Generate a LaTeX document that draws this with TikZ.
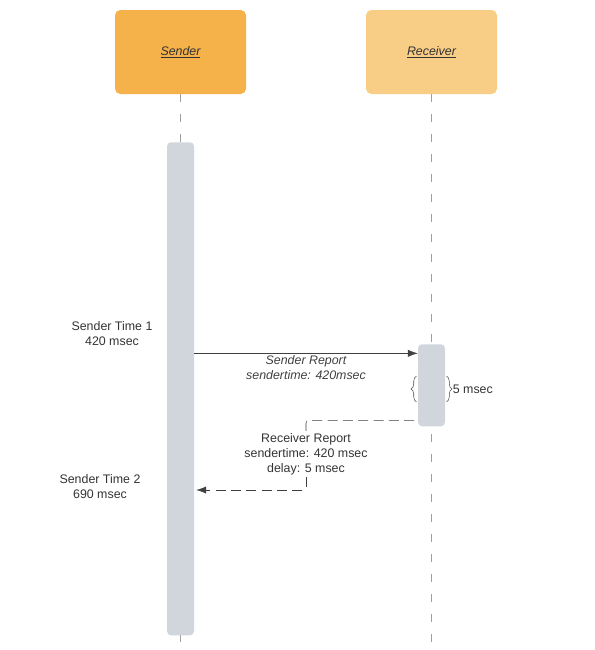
\documentclass[tikz,border=0pt]{standalone}
\usepackage{fontspec}
\setmainfont{Liberation Sans}
\usetikzlibrary{arrows.meta,positioning,decorations.pathreplacing}
\definecolor{sndorange}{HTML}{F5B14A}
\definecolor{rcvorange}{HTML}{F8CD85}
\definecolor{bargray}{HTML}{D1D5DC}
\definecolor{txtgray}{HTML}{333333}

\begin{document}
\begin{tikzpicture}[
  x=0.75pt,y=-0.75pt,
  font=\fontsize{9.3}{11.3}\selectfont,
  text=txtgray,
  actor/.style={rounded corners=4pt,minimum width=98.25pt,minimum height=63pt,inner sep=0pt,font=\fontsize{9.3}{11.3}\selectfont\itshape},
  actbar/.style={fill=bargray,rounded corners=3pt,minimum width=20.25pt,inner sep=0pt,anchor=north},
  lifeline/.style={gray!75,semithick,dash pattern=on 6pt off 9pt},
  msg/.style={-{Latex[length=2.6mm,width=1.9mm]},black!75},
  reply/.style={msg,dash pattern=on 7.5pt off 4pt,rounded corners=2pt},
  note/.style={align=center,inner sep=1.5pt},
  span/.style={decorate,decoration={brace,amplitude=4pt},black!70}
]
\useasboundingbox (0,0) rectangle (594,650);
% participants
\node[actor,fill=sndorange] (snd) at (180.5,52) {\underline{Sender}};
\node[actor,fill=rcvorange] (rcv) at (431.5,52) {\underline{Receiver}};
\coordinate (sndend) at (180.5,650);
\coordinate (rcvend) at (431.5,650);
\draw[lifeline] (snd.south) -- (sndend);
\draw[lifeline] (rcv.south) -- (rcvend);
% activations
\node[actbar,minimum height=369.75pt] (sndbar) at (180.5,142) {};
\node[actbar,minimum height=61.5pt] (rcvbar) at (431.5,344) {};
% sender report
\coordinate (srout) at ([yshift=-7pt]sndbar.north east |- rcvbar.north);
\draw[msg] (srout) -- (srout -| rcvbar.west)
  node[midway,below=0pt,note,font=\fontsize{9.3}{11.3}\selectfont\itshape] (srlbl) {Sender Report\\sendertime: 420msec};
\node[note] (t1) at (112,334) {Sender Time 1\\420 msec};
% processing delay
\draw[span] ([xshift=-1pt,yshift=-43.5pt]rcvbar.north west) -- ([xshift=-1pt,yshift=-24pt]rcvbar.north west);
\draw[span] ([xshift=1pt,yshift=-24pt]rcvbar.north east) -- ([xshift=1pt,yshift=-43.5pt]rcvbar.north east);
\node[anchor=west,inner sep=0pt] (dly) at ([xshift=5.5pt,yshift=-33.75pt]rcvbar.north east) {5 msec};
% receiver report
\node[note] (rrlbl) at (306,454) {Receiver Report\\sendertime: 420 msec\\delay: 5 msec};
\coordinate (rrout) at ([yshift=4.5pt]rcvbar.south west);
\coordinate (rrin) at (sndbar.east |- 0,490);
\draw[reply,-] (rrlbl.north) |- (rrout);
\draw[reply] (rrlbl.south) |- ([xshift=1.5pt]rrin);
\node[note] (t2) at (100,487) {Sender Time 2\\690 msec};
\end{tikzpicture}
\end{document}
